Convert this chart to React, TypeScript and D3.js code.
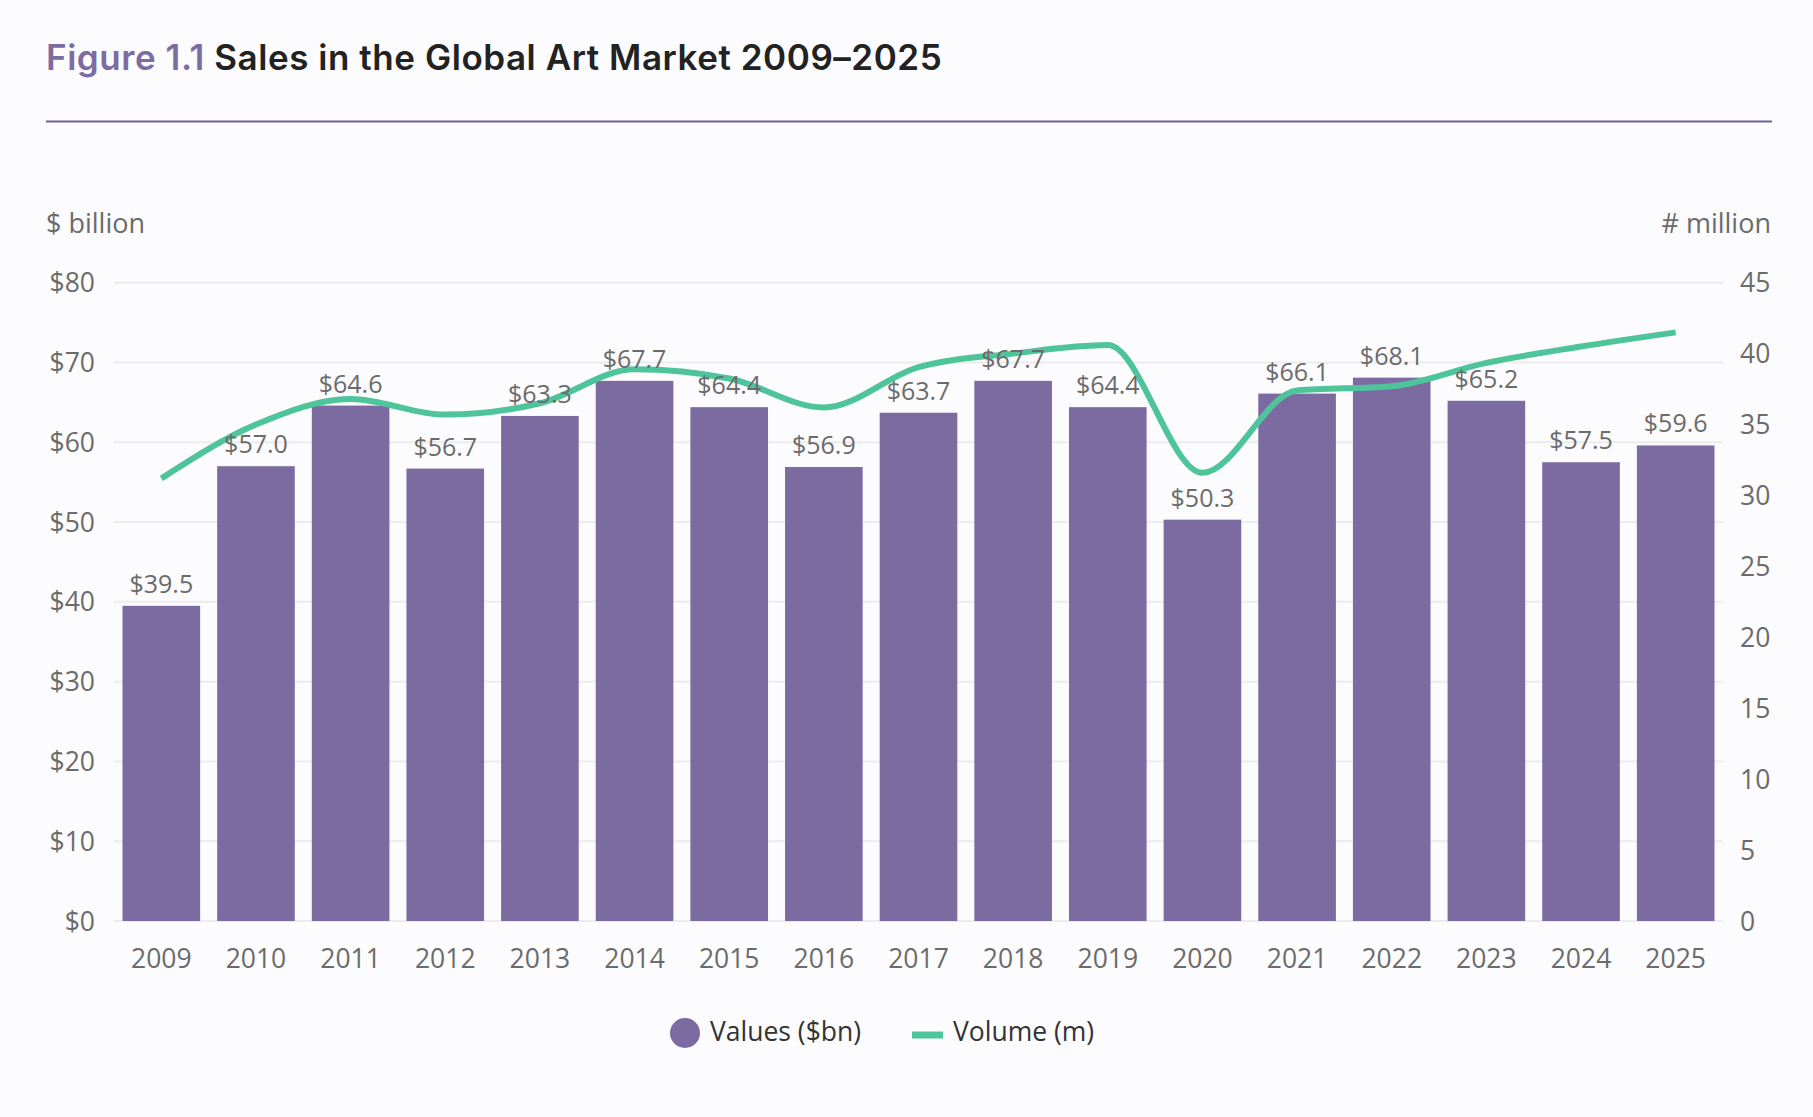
import React from "react";
import * as d3 from "d3";

const years = ["2009","2010","2011","2012","2013","2014","2015","2016","2017","2018","2019","2020","2021","2022","2023","2024","2025"];
const salesValues = [39.5, 57.0, 64.6, 56.7, 63.3, 67.7, 64.4, 56.9, 63.7, 67.7, 64.4, 50.3, 66.1, 68.1, 65.2, 57.5, 59.6];
const volumeValues = [31.2, 35.0, 36.8, 35.7, 36.5, 38.9, 38.25, 36.2, 39.05, 40.0, 40.6, 31.6, 37.4, 37.7, 39.35, 40.5, 41.5];
const leftTicks = [0, 10, 20, 30, 40, 50, 60, 70, 80];
const rightTicks = [0, 5, 10, 15, 20, 25, 30, 35, 40, 45];

const W = 1813;
const H = 1117;
const plotLeft = 114;
const plotRight = 1723;
const plotTop = 282.7;
const plotBottom = 921;

const BAR = "#7b6ba0";
const LINE = "#4ec49a";
const GRAY = "#6b6b6b";
const FONT = "'Open Sans', 'Noto Sans', sans-serif";

export default function App() {
  const x = d3.scaleBand<string>().domain(years).range([plotLeft, plotRight]).paddingInner(0.18).paddingOuter(0.09);
  const yL = d3.scaleLinear().domain([0, 80]).range([plotBottom, plotTop]);
  const yR = d3.scaleLinear().domain([0, 45]).range([plotBottom, plotTop]);
  const line = d3
    .line<number>()
    .x((_, i) => (x(years[i]) as number) + x.bandwidth() / 2)
    .y((d) => yR(d))
    .curve(d3.curveMonotoneX);

  return (
    <svg
      width={W}
      height={H}
      viewBox={`0 0 ${W} ${H}`}
      style={{ position: "absolute", left: 0, top: 0, display: "block", background: "#fcfbfd" }}
    >
      <rect x={0} y={0} width={W} height={H} fill="#fcfbfd" />
      <text x={46} y={70} fontFamily="Inter, Roboto, sans-serif" fontWeight={600} fontSize={35} fill="#222" letterSpacing={0.55}>
        <tspan fill="#7d6ba3">Figure 1.1</tspan>
        <tspan> Sales in the Global Art Market 2009–2025</tspan>
      </text>
      <line x1={46} x2={1772} y1={121.5} y2={121.5} stroke="#6e5f98" strokeWidth={2} />

      <text x={46} y={233} fontFamily={FONT} fontSize={27} fill={GRAY}>$ billion</text>
      <text x={1771} y={233} fontFamily={FONT} fontSize={27} fill={GRAY} textAnchor="end"># million</text>

      {leftTicks.map((t) => (
        <g key={"g" + t}>
          <line x1={plotLeft} x2={plotRight} y1={yL(t)} y2={yL(t)} stroke="#ececee" strokeWidth={2} />
          <text x={95} y={yL(t)} dy="0.36em" textAnchor="end" fontFamily={FONT} fontSize={26.5} fill={GRAY}>
            {"$" + t}
          </text>
        </g>
      ))}
      {rightTicks.map((t) => (
        <text key={"r" + t} x={1740} y={yR(t)} dy="0.36em" fontFamily={FONT} fontSize={26.5} fill={GRAY}>
          {t}
        </text>
      ))}

      {salesValues.map((v, i) => (
        <rect
          key={"b" + i}
          x={x(years[i])}
          y={yL(v)}
          width={x.bandwidth()}
          height={yL(0) - yL(v)}
          fill={BAR}
        />
      ))}

      <path d={line(volumeValues) || ""} fill="none" stroke={LINE} strokeWidth={6} strokeLinecap="butt" />

      {salesValues.map((v, i) => (
        <text
          key={"v" + i}
          x={(x(years[i]) as number) + x.bandwidth() / 2}
          y={yL(v) - 13}
          textAnchor="middle"
          fontFamily={FONT}
          fontSize={25}
          fill={GRAY}
        >
          {"$" + v.toFixed(1)}
        </text>
      ))}

      {years.map((yr) => (
        <text
          key={"x" + yr}
          x={(x(yr) as number) + x.bandwidth() / 2}
          y={968}
          textAnchor="middle"
          fontFamily={FONT}
          fontSize={26.5}
          fill={GRAY}
        >
          {yr}
        </text>
      ))}

      <circle cx={685} cy={1033} r={15} fill={BAR} />
      <text x={710} y={1041} fontFamily={FONT} fontSize={26.5} fill="#333">Values ($bn)</text>
      <line x1={912} x2={943} y1={1035} y2={1035} stroke={LINE} strokeWidth={7} />
      <text x={953} y={1041} fontFamily={FONT} fontSize={26.5} fill="#333">Volume (m)</text>
    </svg>
  );
}
